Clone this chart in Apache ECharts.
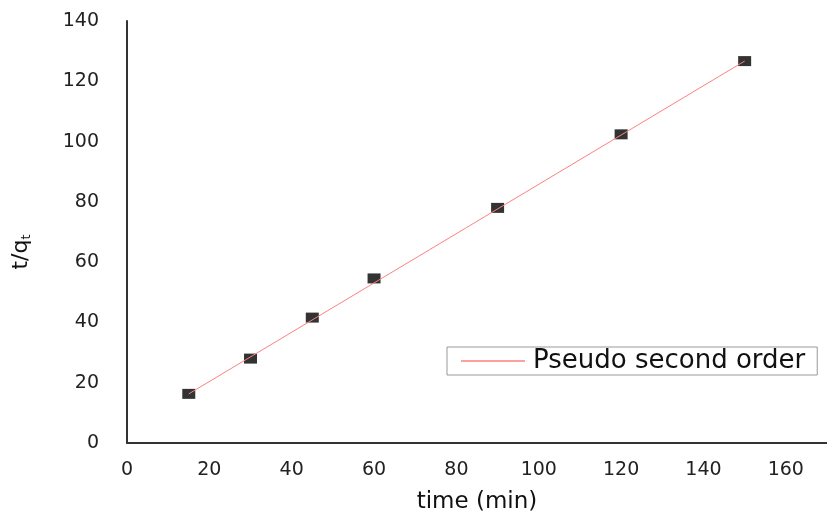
<!DOCTYPE html>
<html>
<head>
<meta charset="utf-8">
<script src="https://cdn.jsdelivr.net/npm/echarts@6/dist/echarts.min.js"></script>
<style>
  html, body { margin: 0; padding: 0; background: #fff; }
  #chart { width: 827px; height: 515px; }
</style>
</head>
<body>
<div id="chart"></div>
<script>
// measured points
var timeMin = [15, 30, 45, 60, 90, 120, 150];
var tOverQ = [16.3, 28.0, 41.6, 54.6, 78.0, 102.4, 126.7];
// fitted line ends
var fitX = [15, 150];
var fitY = [16.3, 126.7];

var pts = timeMin.map(function (x, i) { return [x, tOverQ[i]]; });
var fit = fitX.map(function (x, i) { return [x, fitY[i]]; });

var chart = echarts.init(document.getElementById('chart'));
var font = 'DejaVu Sans';

chart.setOption({
  backgroundColor: '#ffffff',
  animation: false,
  grid: { left: 127, right: 0, top: 21, bottom: 72, containLabel: false, outerBoundsMode: 'none' },
  legend: {
    data: [{ name: 'Pseudo second order', icon: 'rect' }],
    left: 447, top: 347,
    padding: [1, 12, 1, 14],
    itemWidth: 64, itemHeight: 1.5,
    borderColor: '#999', borderWidth: 1,
    textStyle: { fontFamily: font, fontSize: 26, color: '#111', padding: [0, 0, 0, 3] }
  },
  xAxis: {
    type: 'value', min: 0, max: 170, interval: 20,
    name: 'time (min)', nameLocation: 'middle', nameGap: 48,
    nameTextStyle: { fontFamily: font, fontSize: 23, color: '#111' },
    axisLine: { lineStyle: { color: '#333', width: 2 } },
    axisTick: { show: false },
    splitLine: { show: false },
    axisLabel: { showMaxLabel: false, margin: 18, fontFamily: font, fontSize: 19, color: '#222' }
  },
  yAxis: {
    type: 'value', min: 0, max: 140, interval: 20,
    name: 't/q{sub|t}', nameLocation: 'middle', nameGap: 94,
    nameTextStyle: {
      fontFamily: font, fontSize: 22, color: '#111', padding: [0, 40, 0, 0],
      rich: { sub: { fontFamily: font, fontSize: 13, color: '#111', verticalAlign: 'bottom', padding: [10, 0, 0, 0] } }
    },
    axisLine: { show: true, lineStyle: { color: '#333', width: 2 } },
    axisTick: { show: false },
    splitLine: { show: false },
    axisLabel: { margin: 28, fontFamily: font, fontSize: 19, color: '#222' }
  },
  series: [
    {
      name: 'data', type: 'scatter', data: pts,
      symbol: 'rect', symbolSize: [13, 10],
      itemStyle: { color: '#000' }, z: 2
    },
    {
      name: 'Pseudo second order', type: 'line', data: fit,
      symbol: 'none',
      lineStyle: { color: '#ff8080', width: 1 },
      itemStyle: { color: '#ff8080' }, z: 3
    }
  ]
});
</script>
</body>
</html>
